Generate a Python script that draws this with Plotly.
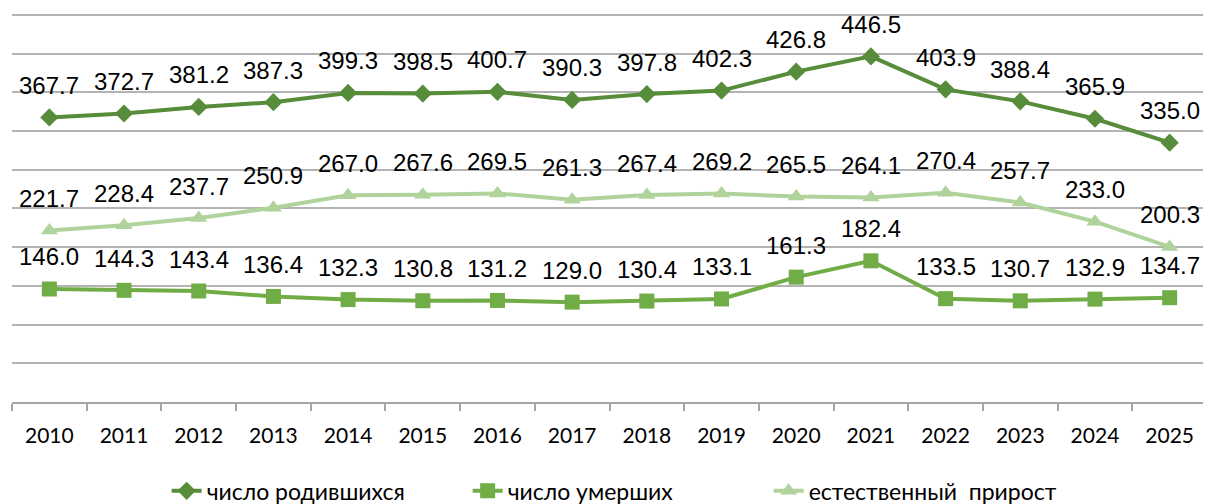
import plotly.graph_objects as go

years = [str(y) for y in range(2010, 2026)]
births = [367.7, 372.7, 381.2, 387.3, 399.3, 398.5, 400.7, 390.3, 397.8, 402.3, 426.8, 446.5, 403.9, 388.4, 365.9, 335.0]
deaths = [146.0, 144.3, 143.4, 136.4, 132.3, 130.8, 131.2, 129.0, 130.4, 133.1, 161.3, 182.4, 133.5, 130.7, 132.9, 134.7]
natural = [221.7, 228.4, 237.7, 250.9, 267.0, 267.6, 269.5, 261.3, 267.4, 269.2, 265.5, 264.1, 270.4, 257.7, 233.0, 200.3]

names = ["число родившихся", "число умерших", "естественный  прирост"]
colors = ["#578C3A", "#70AD47", "#B0D39C"]
symbols = ["diamond", "square", "triangle-up"]
sizes = [14, 15, 15]

fig = go.Figure()
for vals, name, col, sym, sz in zip([births, deaths, natural], names, colors, symbols, sizes):
    fig.add_trace(go.Scatter(
        x=years, y=vals, name=name, mode="lines+markers",
        line=dict(color=col, width=4),
        marker=dict(symbol=sym, size=sz, color=col),
    ))

annotations = []
for vals in [births, deaths, natural]:
    for i, v in enumerate(vals):
        annotations.append(dict(
            x=i, y=v, xref="x", yref="y", text=f"{v:.1f}", showarrow=False,
            yshift=32, font=dict(family="Liberation Sans, Arial, sans-serif", size=24, color="#000000"),
        ))

fig.update_layout(
    width=1211, height=504,
    margin=dict(l=4, r=12, t=0, b=110, autoexpand=False),
    paper_bgcolor="white", plot_bgcolor="white",
    showlegend=True,
    legend=dict(
        orientation="h", xref="container", yref="container",
        x=0.131, xanchor="left", y=0.042, yanchor="middle",
        font=dict(family="Lato, sans-serif", size=23, color="#000000", weight=400),
        entrywidth=256, entrywidthmode="pixels",
        bgcolor="rgba(0,0,0,0)",
    ),
    annotations=annotations,
)
fig.update_xaxes(
    type="category", categoryorder="array", categoryarray=years, range=[-0.5, 15.5],
    showgrid=False, showline=True, linecolor="#A6A6A6", linewidth=1.5,
    ticks="outside", tickson="boundaries", ticklen=7, tickcolor="#A6A6A6", tickwidth=1.5,
    tickangle=0, automargin=False,
    tickfont=dict(family="Lato, sans-serif", size=21, color="#000000", weight=400),
    ticklabelstandoff=14,
)
fig.update_yaxes(
    range=[0, 509], tick0=0, dtick=50, showgrid=True, gridcolor="#B3B3B3", gridwidth=1.5,
    showticklabels=False, zeroline=False, showline=False, automargin=False,
)

fig.write_html("out.html")
